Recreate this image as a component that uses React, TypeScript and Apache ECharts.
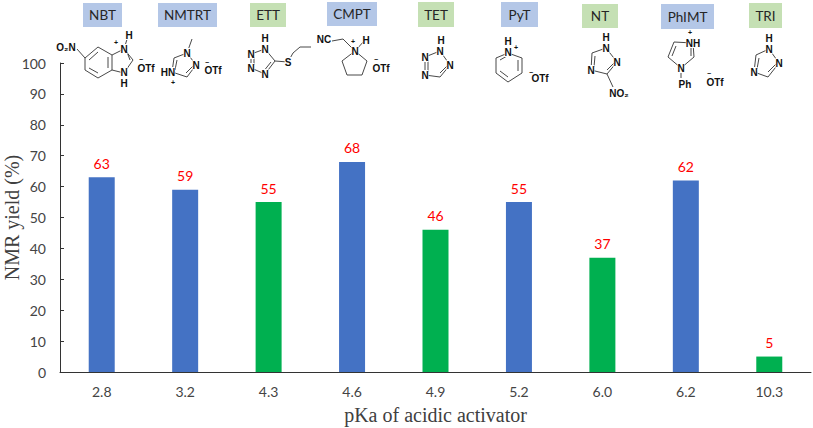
import React, { useEffect, useRef } from "react";
import * as echarts from "echarts";

const pKa = ["2.8", "3.2", "4.3", "4.6", "4.9", "5.2", "6.0", "6.2", "10.3"];
const yields = [63, 59, 55, 68, 46, 55, 37, 62, 5];
const activators = ["NBT", "NMTRT", "ETT", "CMPT", "TET", "PyT", "NT", "PhIMT", "TRI"];
const saltKinds = ["blue", "blue", "green", "blue", "green", "blue", "green", "blue", "green"];

const barColors: Record<string, string> = { blue: "#4472C4", green: "#00B050" };
const boxColors: Record<string, string> = { blue: "#B4C7E7", green: "#C5E0B4" };
const boxes = [
  [83, 3, 39, 24], [158, 3, 59, 24], [250, 3, 36, 24], [327, 2, 50, 24], [418, 2, 36, 25],
  [501, 2, 37, 25], [582, 4, 36, 24], [661, 4, 53, 25], [749, 3, 33, 25],
];

type P = [number, number];
type Atom = [string, number, number, number?];
const bonds: P[][] = [
  // NBT
  [[77, 49], [85, 58]],
  [[85, 58], [98, 47], [112, 55], [112, 70], [98, 78], [85, 70], [85, 58]],
  [[89, 60], [98, 52]], [[108, 57], [108, 68]], [[89, 68], [98, 73]],
  [[112, 55], [124, 49], [133, 60], [124, 73], [112, 70]], [[127, 52], [130, 60]],
  [[124, 49], [128, 36]],
  // NMTRT
  [[187, 53], [192, 39]],
  [[187, 53], [196, 65], [187, 77], [172, 72], [174, 58], [187, 53]],
  [[177, 60], [175, 70]], [[193, 66], [186, 73]],
  // ETT
  [[265, 49], [251, 54], [251, 68], [265, 74], [275, 61], [265, 49]],
  [[254, 57], [254, 65]], [[263, 72], [271, 62]],
  [[275, 61], [288, 62], [293, 53], [300, 47], [311, 47]],
  // CMPT
  [[332, 41], [343, 39], [355, 51]], [[355, 51], [365, 40]],
  [[355, 51], [367, 61], [362, 75], [347, 75], [342, 61], [355, 51]],
  // TET
  [[440, 51], [450, 65], [440, 77], [425, 75], [425, 57], [440, 51]],
  [[428, 60], [428, 72]], [[447, 66], [440, 73]],
  // PyT
  [[508, 53], [522, 58], [522, 73], [508, 82], [496, 73], [496, 58], [508, 53]],
  [[518, 60], [518, 71]], [[500, 71], [508, 77]], [[500, 60], [507, 56]],
  // NT
  [[606, 48], [617, 62], [607, 74], [591, 70], [592, 53], [606, 48]],
  [[595, 56], [594, 67]], [[614, 63], [607, 70]], [[607, 74], [613, 87]],
  // PhIMT
  [[693, 43], [694, 57], [681, 68], [668, 57], [674, 42], [693, 43]],
  [[691, 47], [691, 56]], [[672, 56], [676, 46]], [[681, 68], [681, 78]],
  // TRI
  [[769, 49], [779, 63], [768, 77], [754, 72], [756, 55], [769, 49]],
  [[759, 58], [757, 69]], [[776, 64], [768, 72]],
];
const atoms: Atom[] = [
  ["O₂N", 66, 47], ["N", 124, 49], ["H", 129, 35], ["+", 116, 42, 7], ["N", 124, 72], ["H", 124, 83],
  ["OTf", 146, 68], ["−", 141, 59, 7],
  ["N", 187, 53], ["N", 196, 65], ["HN", 168, 72], ["+", 173, 82, 7], ["OTf", 213, 70], ["−", 207, 62, 7],
  ["H", 265, 38], ["N", 265, 49], ["N", 251, 54], ["N", 251, 68], ["N", 265, 74], ["S", 288, 62],
  ["NC", 324, 39], ["N", 355, 51], ["H", 366, 40], ["+", 353, 41, 7], ["OTf", 381, 68], ["−", 376, 59, 7],
  ["H", 441, 40], ["N", 440, 51], ["N", 450, 65], ["N", 425, 75], ["N", 425, 57],
  ["H", 508, 41], ["N", 508, 52], ["+", 516, 47, 7], ["OTf", 540, 78], ["−", 531, 72, 7],
  ["H", 606, 37], ["N", 606, 48], ["N", 617, 62], ["N", 591, 70], ["NO₂", 619, 93],
  ["+", 690, 32, 7], ["NH", 693, 43], ["N", 681, 68], ["Ph", 685, 84], ["OTf", 715, 82], ["−", 709, 73, 7],
  ["H", 769, 38], ["N", 769, 49], ["N", 779, 63], ["N", 754, 72],
];

export default function App() {
  const ref = useRef<HTMLDivElement>(null);
  useEffect(() => {
    document.body.style.margin = "0";
    const chart = echarts.init(ref.current!, undefined, { renderer: "svg" });
    const graphic: any[] = [];
    activators.forEach((name, i) => {
      const [x, y, w, h] = boxes[i];
      graphic.push({ type: "rect", shape: { x, y, width: w, height: h }, style: { fill: boxColors[saltKinds[i]] } });
      graphic.push({
        type: "text", x: x + w / 2, y: y + h / 2,
        style: { text: name, fill: "#262626", font: "13.5px Lato", align: "center", verticalAlign: "middle" },
      });
    });
    bonds.forEach((pts) =>
      graphic.push({ type: "polyline", shape: { points: pts }, style: { stroke: "#333", lineWidth: 0.9, fill: "none" } })
    );
    atoms.forEach(([t, x, y, size]) =>
      graphic.push({
        type: "text", x, y,
        style: {
          text: t, fill: "#111", font: `bold ${size || 10}px "Liberation Sans"`, align: "center", verticalAlign: "middle",
          backgroundColor: size ? undefined : "#fff",
        },
      })
    );
    chart.setOption({
      animation: false,
      grid: { left: 60, right: 2, top: 63, bottom: 56, outerBoundsMode: "none" },
      xAxis: {
        type: "category", data: pKa,
        name: "pKa of acidic activator", nameLocation: "middle", nameGap: 33,
        nameTextStyle: { fontFamily: "Liberation Serif", fontSize: 20, color: "#404040" },
        axisLine: { lineStyle: { color: "#333", width: 1 } },
        axisTick: { show: false },
        axisLabel: { fontFamily: "Lato", fontSize: 14, color: "#444", margin: 12 },
      },
      yAxis: {
        type: "value", min: 0, max: 100, interval: 10,
        name: "NMR yield (%)", nameLocation: "middle", nameGap: 38, nameMoveOverlap: false,
        nameTextStyle: { fontFamily: "Liberation Serif", fontSize: 20, color: "#404040" },
        axisLine: { show: true, lineStyle: { color: "#333", width: 1 } },
        axisTick: { show: true, inside: true, length: 4, lineStyle: { color: "#333" } },
        splitLine: { show: false },
        axisLabel: { fontFamily: "Lato", fontSize: 14, color: "#444", margin: 14 },
      },
      series: [{
        type: "bar", barWidth: 26,
        data: yields.map((v, i) => ({ value: v, itemStyle: { color: barColors[saltKinds[i]] } })),
        label: { show: true, position: "top", distance: 7, color: "#FF0000", fontFamily: "Lato", fontSize: 14 },
      }],
      graphic,
    });
    return () => chart.dispose();
  }, []);
  return <div ref={ref} style={{ width: 813, height: 428 }} />;
}
